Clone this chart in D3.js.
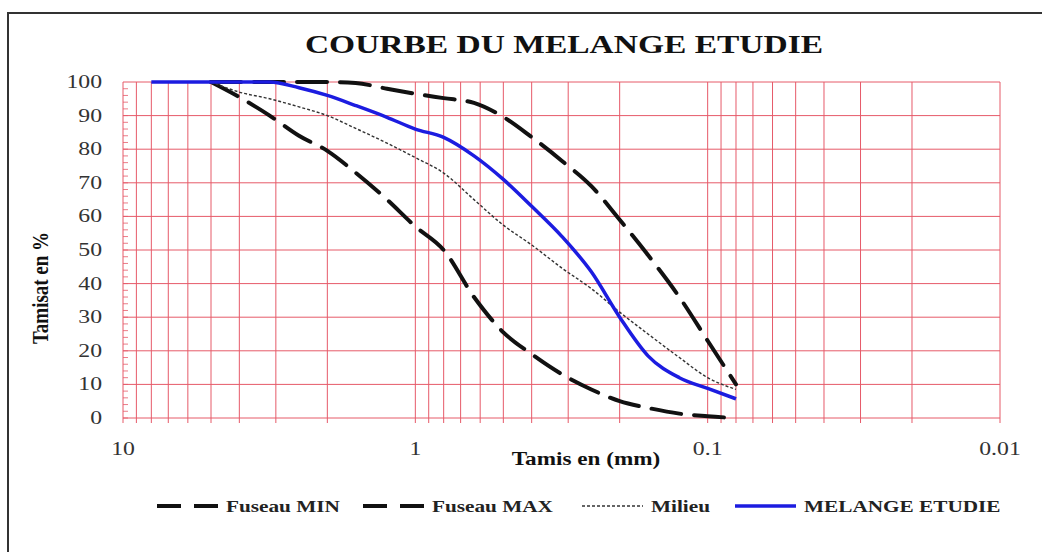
<!DOCTYPE html>
<html>
<head>
<meta charset="UTF-8">
<style>
  body { margin: 0; background: #fff; }
  svg { display: block; }
  text { font-family: "Liberation Serif", "Times New Roman", serif; }
</style>
</head>
<body>
<svg id="chart" width="1042" height="552"></svg>
<script src="https://d3js.org/d3.v7.min.js"></script>
<script>
// sieve openings (mm) and passing percentages
const sieves     = [8, 6.3, 5, 4, 3.15, 2.5, 2, 1.6, 1.25, 1, 0.8, 0.63, 0.5, 0.4, 0.315, 0.25, 0.2, 0.16, 0.125, 0.1, 0.08];
const fuseauMin  = [null, null, 100, 95.5, 90, 84, 79.5, 73, 65, 57, 50, 36, 25.5, 19, 13, 8.5, 5, 3, 1.3, 0.5, 0];
const fuseauMax  = [null, null, 100, 100, 100, 100, 100, 99.7, 98, 96.5, 95.2, 93.8, 89.6, 83.6, 76.5, 69, 59, 48.5, 36, 23, 10];
const milieu     = [null, null, 100, 97, 95, 92.6, 90, 86.2, 81.8, 77.5, 72.9, 65, 57.4, 51.5, 44.6, 38.5, 31.5, 25, 18, 12, 8.5];
const melange    = [100, 100, 100, 100, 100, 98.3, 96, 93, 89.5, 86, 83.5, 78, 71, 63, 54, 43.5, 30, 18.5, 12, 8.8, 5.7];

const xTickLabels = [10, 1, 0.1, 0.01];
const yTickLabels = [0, 10, 20, 30, 40, 50, 60, 70, 80, 90, 100];
const legendNames = ["Fuseau MIN", "Fuseau MAX", "Milieu", "MELANGE ETUDIE"];

const svg = d3.select("#chart");
const gridColor = "#e65a69";

const x = d3.scaleLog().domain([10, 0.01]).range([123, 1000]);
const y = d3.scaleLinear().domain([0, 100]).range([418, 82]);

// outer frame (runs off the right and bottom of the picture)
svg.append("path")
    .attr("d", "M8,552 L8,13 L1042,13")
    .attr("fill", "none")
    .attr("stroke", "#333")
    .attr("stroke-width", 2);

// stretched text helper, the original picture is widened horizontally
function label(g, px, py, str, sx) {
    return g.append("text")
        .attr("transform", "translate(" + px + "," + py + ") scale(" + (sx || 1.25) + ",1)")
        .text(str);
}

// grid
const grid = svg.append("g").attr("stroke", gridColor).attr("stroke-width", 1);
grid.selectAll("line.v")
    .data(x.ticks())
    .enter().append("line")
    .attr("class", "v")
    .attr("x1", d => x(d)).attr("x2", d => x(d))
    .attr("y1", y(100)).attr("y2", y(0) + 5);
grid.selectAll("line.h")
    .data(yTickLabels)
    .enter().append("line")
    .attr("class", "h")
    .attr("x1", x(10)).attr("x2", x(0.01))
    .attr("y1", d => y(d)).attr("y2", d => y(d));
// little minor ticks on the left edge
grid.selectAll("line.m")
    .data(d3.range(0, 100, 2))
    .enter().append("line")
    .attr("class", "m")
    .attr("x1", x(10)).attr("x2", x(10) + 5)
    .attr("y1", d => y(d)).attr("y2", d => y(d))
    .attr("stroke-width", 0.8);

// tick labels
const yl = svg.append("g").attr("font-size", 19).attr("fill", "#333").attr("text-anchor", "end");
yTickLabels.forEach(v => label(yl, 102, y(v) + 6, v));
const xl = svg.append("g").attr("font-size", 19).attr("fill", "#333").attr("text-anchor", "middle");
xTickLabels.forEach(v => label(xl, x(v), 455, v));

// titles
label(svg, 564, 53, "COURBE DU MELANGE ETUDIE", 1.34)
    .attr("text-anchor", "middle").attr("font-size", 25).attr("font-weight", "bold").attr("fill", "#111");
label(svg, 586, 465, "Tamis en (mm)", 1.22)
    .attr("text-anchor", "middle").attr("font-size", 19).attr("font-weight", "bold").attr("fill", "#111");
svg.append("text")
    .attr("transform", "translate(48,288) scale(1.25,1) rotate(-90)")
    .attr("text-anchor", "middle")
    .attr("font-size", 19).attr("font-weight", "bold").attr("fill", "#111")
    .text("Tamisat en %");

// curves
const series = [
    { name: legendNames[0], values: fuseauMin, stroke: "#111", width: 4, dash: "30,13", legendDash: "24,13" },
    { name: legendNames[1], values: fuseauMax, stroke: "#111", width: 4, dash: "30,13", legendDash: "24,13" },
    { name: legendNames[2], values: milieu, stroke: "#333", width: 1.4, dash: "3,2", legendDash: "3,2" },
    { name: legendNames[3], values: melange, stroke: "#1c1ce0", width: 3.5, dash: null, legendDash: null }
];

const line = d3.line()
    .defined(d => d.v != null)
    .x(d => x(d.s))
    .y(d => y(d.v))
    .curve(d3.curveMonotoneX);

svg.append("g")
    .selectAll("path")
    .data(series)
    .enter().append("path")
    .attr("d", s => line(sieves.map((d, i) => ({ s: d, v: s.values[i] }))))
    .attr("fill", "none")
    .attr("stroke", s => s.stroke)
    .attr("stroke-width", s => s.width)
    .attr("stroke-dasharray", s => s.dash)
    .attr("stroke-linecap", s => s.dash && s.width > 2 ? "round" : "butt");

// legend
const legendX = [157, 363, 582, 735];
const legend = svg.append("g");
series.forEach((s, i) => {
    legend.append("line")
        .attr("x1", legendX[i]).attr("x2", legendX[i] + 61)
        .attr("y1", 506).attr("y2", 506)
        .attr("stroke", s.stroke)
        .attr("stroke-width", s.width)
        .attr("stroke-dasharray", s.legendDash);
    label(legend, legendX[i] + 69, 512, s.name, 1.25)
        .attr("font-size", 17).attr("font-weight", "bold").attr("fill", "#222");
});
</script>
</body>
</html>
